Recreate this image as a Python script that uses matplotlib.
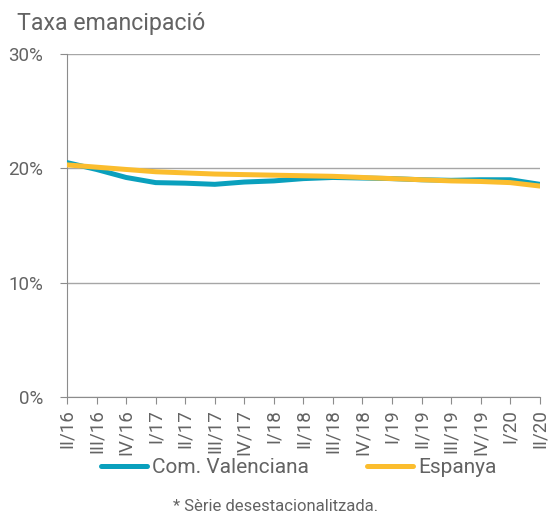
import numpy as np
import matplotlib.pyplot as plt

plt.rcParams['font.family'] = ['Roboto', 'DejaVu Sans']

trimestres = ['II/16', 'III/16', 'IV/16', 'I/17', 'II/17', 'III/17', 'IV/17', 'I/18',
              'II/18', 'III/18', 'IV/18', 'I/19', 'II/19', 'III/19', 'IV/19', 'I/20', 'II/20']
valenciana = [20.5, 19.9, 19.2, 18.75, 18.7, 18.6, 18.8, 18.9, 19.1, 19.2, 19.15,
              19.1, 19.0, 18.95, 19.0, 19.0, 18.6]
espanya = [20.3, 20.1, 19.9, 19.7, 19.6, 19.5, 19.45, 19.4, 19.35, 19.3, 19.2,
           19.1, 19.0, 18.9, 18.85, 18.75, 18.45]

gris = '#636363'
fig = plt.figure(figsize=(5.48, 5.14), dpi=100)
ax = fig.add_axes([0.1223, 0.2276, 0.8627, 0.6674])

x = np.arange(len(trimestres))
ax.plot(x, valenciana, color='#0aa0bd', lw=3.6, solid_capstyle='round',
        solid_joinstyle='round', label='Com. Valenciana', zorder=3)
ax.plot(x, espanya, color='#fbbd2e', lw=3.6, solid_capstyle='round',
        solid_joinstyle='round', label='Espanya', zorder=4)

ax.set_xlim(0, len(trimestres) - 1)
ax.set_ylim(0, 30)
ax.set_yticks([0, 10, 20, 30])
ax.set_yticklabels(['0%', '10%', '20%', '30%'])
ax.set_xticks(x)
ax.set_xticklabels(trimestres, rotation=90)
ax.grid(axis='y', color='#a6a6a6', lw=1)
ax.set_axisbelow(True)
for s in ['top', 'right']:
    ax.spines[s].set_visible(False)
for s in ['left', 'bottom']:
    ax.spines[s].set_color('#8c8c8c')
ax.tick_params(colors='#8c8c8c', labelcolor=gris, labelsize=13.5, length=5)
ax.tick_params(axis='y', pad=12)

fig.text(0.031, 0.955, 'Taxa emancipació', fontsize=16.7, color=gris, va='center')

fig.legend(loc='center', bbox_to_anchor=(0.545, 0.09), ncol=2, frameon=False,
           fontsize=15, handlelength=2.2, handletextpad=0.25, columnspacing=2.8,
           labelcolor=gris)
fig.text(0.503, 0.0, '* Sèrie desestacionalitzada.', fontsize=12, color=gris,
         ha='center', va='bottom')

fig.savefig('out.png', dpi=100)
